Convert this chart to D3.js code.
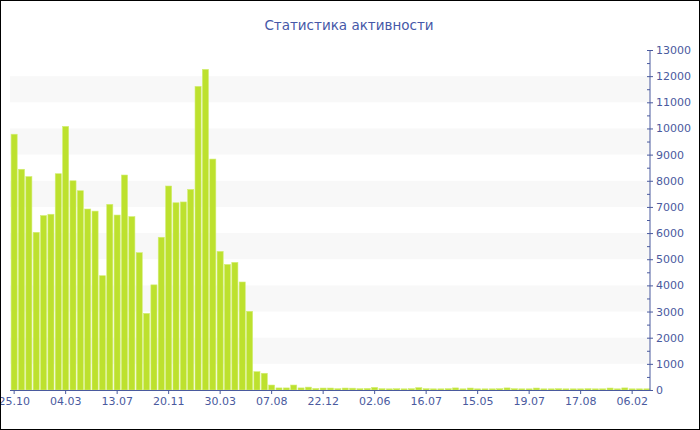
<!DOCTYPE html>
<html><head><meta charset="utf-8">
<script src="https://cdn.jsdelivr.net/npm/d3@7/dist/d3.min.js"></script>
<style>body{margin:0;background:#fff}svg{display:block}</style>
</head><body><svg id="c" width="700" height="430"></svg>
<script>
const title = "Статистика активности";
const values = [9780,8440,8160,6030,6670,6720,8270,10080,8000,7620,6920,6840,4370,7100,6690,8220,6630,5250,2930,4020,5840,7800,7160,7190,7670,11610,12260,8830,5300,4800,4880,4130,3010,700,640,190,80,80,190,80,110,60,75,75,50,75,70,50,60,100,50,45,50,45,50,90,50,45,45,50,80,45,75,45,45,45,50,80,50,45,45,75,45,45,50,45,45,45,50,45,45,75,45,80,45,45,45];
const tickLabels = ["25.10","04.03","13.07","20.11","30.03","07.08","22.12","02.06","16.07","15.05","19.07","17.08","06.02"];
const tickEvery = 7;
const yMax = 13000;
const yTicks = d3.range(0, 13001, 1000);

const svg = d3.select("#c");
const W=700,H=430, L=10.5, R=650.5, T=50, B=390;
const ink = "#4a5a9e";
const font = "DejaVu Sans, Verdana, sans-serif";

const x = d3.scaleBand().domain(d3.range(values.length)).range([L,R]).paddingInner(0.17).paddingOuter(0.08);
const y = d3.scaleLinear().domain([0,yMax]).range([B,T]);

// bands
svg.append("g").selectAll("rect").data(d3.range(1,13,2)).join("rect")
  .attr("x",10).attr("width",640)
  .attr("y",d=>y(d*1000+1000)).attr("height",d=>y(d*1000)-y(d*1000+1000))
  .attr("fill","#f8f8f8");

// bars
svg.append("g").selectAll("rect").data(values).join("rect")
  .attr("x",(d,i)=>x(i)).attr("width",x.bandwidth())
  .attr("y",d=>y(d)).attr("height",d=>B-y(d))
  .attr("fill","#bde12e").attr("stroke","#d3ee74").attr("stroke-width",0.6);

// y axis on right
const ya = d3.axisRight(y).tickValues(yTicks).tickSize(3).tickPadding(3).tickFormat(d3.format("d"));
const gy = svg.append("g").attr("transform",`translate(650,0)`).call(ya);
gy.select(".domain").attr("stroke",ink).attr("d",`M0,${T}V${B}`);
gy.selectAll(".tick line").attr("stroke",ink).attr("x1",-3).attr("x2",3);
gy.selectAll(".tick text").attr("fill",ink).attr("font-family",font).attr("font-size",11);
gy.append("g").selectAll("line").data(d3.range(500,13000,1000)).join("line")
  .attr("x1",-3).attr("x2",0).attr("y1",d=>y(d)+0.5).attr("y2",d=>y(d)+0.5).attr("stroke",ink);

// x axis
const xa = d3.axisBottom(x).tickValues(d3.range(0,values.length,tickEvery))
  .tickFormat(i=>tickLabels[i/tickEvery]).tickSize(4).tickPadding(3);
const gx = svg.append("g").attr("transform",`translate(0,${B})`).call(xa);
gx.select(".domain").attr("stroke",ink).attr("d",`M10,0.5H650`);
gx.selectAll(".tick line").attr("stroke",ink);
gx.selectAll(".tick text").attr("fill",ink).attr("font-family",font).attr("font-size",11);

// title
svg.append("text").attr("x",349).attr("y",30).attr("text-anchor","middle")
  .attr("font-family",font).attr("font-size",13.5).attr("fill","#4658a8").text(title);

// frame
svg.append("rect").attr("x",0.5).attr("y",0.5).attr("width",W-1).attr("height",H-1)
  .attr("fill","none").attr("stroke","#000");
</script></body></html>
